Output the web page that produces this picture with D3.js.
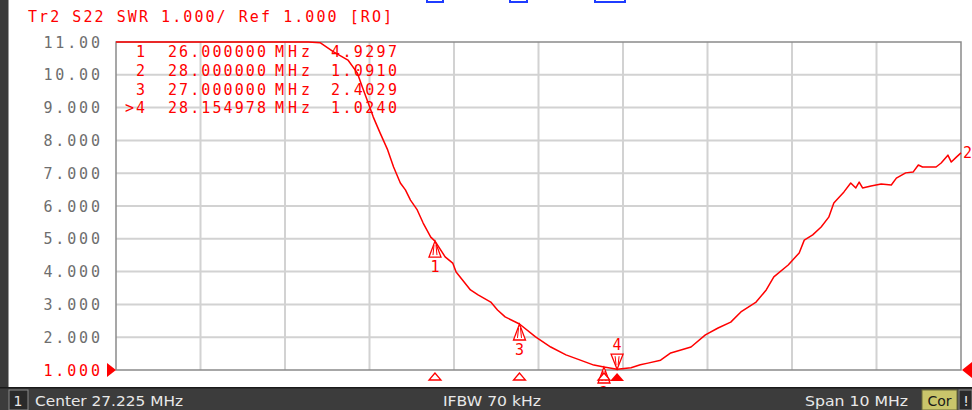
<!DOCTYPE html>
<html>
<head>
<meta charset="utf-8">
<script src="https://cdn.jsdelivr.net/npm/d3@7"></script>
<style>
  html, body { margin: 0; padding: 0; background: #fff; }
  svg { display: block; }
  .mono { font-family: "DejaVu Sans Mono", "Liberation Mono", monospace; }
  .stat { font-family: "DejaVu Sans", "Liberation Sans", sans-serif; }
</style>
</head>
<body>
<svg id="chart" width="972" height="410"></svg>
<script>
// trace: frequency (MHz) and SWR
const freqMHz = [22.225, 23.5, 24.5, 24.64, 24.80, 24.97, 25.08, 25.14, 25.21, 25.27, 25.35, 25.44, 25.51, 25.59,
  25.65, 25.71, 25.79, 25.86, 25.95, 26.00, 26.12, 26.21, 26.25, 26.42, 26.51, 26.66, 26.74, 26.83, 27.00,
  27.19, 27.37, 27.55, 27.72, 27.88, 28.00, 28.155, 28.32, 28.43, 28.52, 28.67, 28.79, 29.03, 29.20, 29.35,
  29.50, 29.62, 29.80, 29.92, 30.01, 30.18, 30.31, 30.37, 30.47, 30.57, 30.66, 30.72, 30.84, 30.92, 30.98,
  31.02, 31.06, 31.16, 31.28, 31.40, 31.46, 31.57, 31.66, 31.72, 31.77, 31.93, 31.99, 32.07, 32.11, 32.17, 32.225]
const swr = [15.0, 13.0, 11.3, 10.98, 10.70, 10.45, 10.06, 9.63, 9.14, 8.71, 8.23, 7.71, 7.19, 6.70,
  6.49, 6.18, 5.88, 5.48, 5.05, 4.9297, 4.45, 4.26, 3.99, 3.44, 3.29, 3.07, 2.83, 2.62, 2.4029,
  2.01, 1.70, 1.46, 1.30, 1.15, 1.091, 1.024, 1.07, 1.16, 1.21, 1.30, 1.52, 1.70, 2.07, 2.28,
  2.46, 2.77, 3.07, 3.44, 3.84, 4.20, 4.57, 4.96, 5.12, 5.36, 5.66, 6.09, 6.43, 6.70, 6.55,
  6.73, 6.55, 6.61, 6.67, 6.64, 6.85, 7.01, 7.04, 7.25, 7.19, 7.19, 7.31, 7.55, 7.34, 7.49, 7.62]

const markerIds = ["1", "2", "3", "4"]
const markerFreqs = [26.000000, 28.000000, 27.000000, 28.154978]
const markerVals = [4.9297, 1.0910, 2.4029, 1.0240]
const activeMarker = "4"

const yTicks = [11, 10, 9, 8, 7, 6, 5, 4, 3, 2, 1]
const yTickLabels = ["11.00", "10.00", "9.000", "8.000", "7.000", "6.000", "5.000", "4.000", "3.000", "2.000", "1.000"]

const headerText = "Tr2 S22 SWR 1.000/ Ref 1.000 [RO]"
const centerText = "Center 27.225 MHz"
const ifbwText = "IFBW 70 kHz"
const spanText = "Span 10 MHz"

const RED = "#ff0000"
const svg = d3.select("#chart")

const pLeft = 116, pRight = 961, pTop = 42, pBottom = 370
const x = d3.scaleLinear().domain([22.225, 32.225]).range([pLeft, pRight])
const y = d3.scaleLinear().domain([1, 11]).range([pBottom, pTop]).clamp(true)

// left frame
svg.append("rect").attr("x", 0).attr("y", 0).attr("width", 8).attr("height", 410).attr("fill", "#3a3a3a")
svg.append("rect").attr("x", 8).attr("y", 0).attr("width", 1).attr("height", 388).attr("fill", "#9a9a9a")

// blue bits at the very top (buttons cut off)
const blueBits = [[427, 16], [510, 17], [595, 30]]
blueBits.forEach(b => {
  svg.append("rect").attr("x", b[0]).attr("y", -6).attr("width", b[1]).attr("height", 8)
    .attr("fill", "none").attr("stroke", "#1f3cff").attr("stroke-width", 2)
})

// header
svg.append("text").attr("class", "mono").attr("x", 28).attr("y", 22)
  .attr("font-size", 15).attr("fill", RED).attr("textLength", 364).attr("lengthAdjust", "spacing")
  .text(headerText)

// grid
const xGrid = d3.range(1, 10).map(i => 22.225 + i)
svg.append("g").selectAll("line").data(xGrid).join("line")
  .attr("x1", d => x(d)).attr("x2", d => x(d)).attr("y1", pTop).attr("y2", pBottom)
  .attr("stroke", "#d2d2d2").attr("stroke-width", 2)
svg.append("g").selectAll("line").data(yTicks.filter(d => d > 1 && d < 11)).join("line")
  .attr("x1", pLeft).attr("x2", pRight).attr("y1", d => y(d)).attr("y2", d => y(d))
  .attr("stroke", "#d2d2d2").attr("stroke-width", 2)

// frame
svg.append("rect").attr("x", pLeft).attr("y", pTop).attr("width", pRight - pLeft).attr("height", pBottom - pTop)
  .attr("fill", "none").attr("stroke", "#8a8a8a").attr("stroke-width", 1.5)

// y labels
svg.append("g").selectAll("text").data(yTicks).join("text")
  .attr("class", "mono")
  .attr("x", 100).attr("y", d => y(d) + 5.5)
  .attr("text-anchor", "end").attr("font-size", 15)
  .attr("fill", d => d === 1 ? RED : "#6e6e6e")
  .attr("textLength", (d, i) => yTickLabels[i].length * 11.3).attr("lengthAdjust", "spacing")
  .text((d, i) => yTickLabels[i])

// marker table
const rowY = [57, 76, 95, 113]
const table = svg.append("g").attr("class", "mono").attr("font-size", 15).attr("fill", RED)
markerIds.forEach((id, i) => {
  const lab = id === activeMarker ? ">" + id : id
  table.append("text").attr("x", 145).attr("y", rowY[i]).attr("text-anchor", "end")
    .attr("textLength", lab.length * 10).attr("lengthAdjust", "spacing").text(lab)
  table.append("text").attr("x", 168).attr("y", rowY[i])
    .attr("textLength", 98).attr("lengthAdjust", "spacing").text(markerFreqs[i].toFixed(6))
  table.append("text").attr("x", 275).attr("y", rowY[i])
    .attr("textLength", 35).attr("lengthAdjust", "spacing").text("MHz")
  table.append("text").attr("x", 397).attr("y", rowY[i]).attr("text-anchor", "end")
    .attr("textLength", 66).attr("lengthAdjust", "spacing").text(markerVals[i].toFixed(4))
})

// trace
const line = d3.line().x((d, i) => x(freqMHz[i])).y(d => y(d))
svg.append("path").datum(swr).attr("d", line)
  .attr("fill", "none").attr("stroke", RED).attr("stroke-width", 1.5).attr("stroke-linejoin", "round")

// trace label at the right end
svg.append("text").attr("class", "mono").attr("x", 963).attr("y", y(swr[swr.length - 1]) + 5)
  .attr("font-size", 15).attr("fill", RED).text("2")

// reference level arrows
svg.append("path").attr("d", `M${pLeft - 9},${pBottom - 7}L${pLeft},${pBottom}L${pLeft - 9},${pBottom + 7}Z`).attr("fill", RED)
svg.append("path").attr("d", `M972,${pBottom - 8}L${pRight + 1},${pBottom}L972,${pBottom + 8}Z`).attr("fill", RED)

// markers on the trace
const mk = svg.append("g")
markerIds.forEach((id, i) => {
  const mx = x(markerFreqs[i]), my = y(markerVals[i])
  if (id === activeMarker) {
    mk.append("path").attr("d", `M${mx},${my}L${mx - 6},${my - 15}L${mx + 6},${my - 15}Z`)
      .attr("fill", "#fff").attr("stroke", RED).attr("stroke-width", 1.3)
    mk.append("path").attr("d", `M${mx - 2},${my - 13}L${mx - 1},${my - 4}M${mx + 2},${my - 13}L${mx + 1},${my - 4}`)
      .attr("stroke", RED).attr("stroke-width", 1)
    mk.append("text").attr("class", "mono").attr("x", mx).attr("y", my - 19).attr("text-anchor", "middle")
      .attr("font-size", 15).attr("fill", RED).text(id)
    // filled triangle under the axis
    mk.append("path").attr("d", `M${mx},${pBottom + 3}L${mx - 7},${pBottom + 11}L${mx + 7},${pBottom + 11}Z`).attr("fill", RED)
  } else {
    mk.append("path").attr("d", `M${mx},${my}L${mx - 6},${my + 16}L${mx + 6},${my + 16}Z`)
      .attr("fill", "#fff").attr("stroke", RED).attr("stroke-width", 1.3)
    mk.append("path").attr("d", `M${mx - 1},${my + 4}L${mx - 2},${my + 14}M${mx + 1},${my + 4}L${mx + 2},${my + 14}`)
      .attr("stroke", RED).attr("stroke-width", 1)
    mk.append("text").attr("class", "mono").attr("x", mx).attr("y", my + 31).attr("text-anchor", "middle")
      .attr("font-size", 15).attr("fill", RED).text(id)
    mk.append("path").attr("d", `M${mx},${pBottom + 3}L${mx - 6},${pBottom + 10}L${mx + 6},${pBottom + 10}Z`)
      .attr("fill", "#fff").attr("stroke", RED).attr("stroke-width", 1.3)
  }
})

// status bar
const sb = svg.append("g")
sb.append("rect").attr("x", 0).attr("y", 387).attr("width", 972).attr("height", 23).attr("fill", "#3c3c3c")
sb.append("rect").attr("x", 0).attr("y", 387).attr("width", 972).attr("height", 1.5).attr("fill", "#1a1a1a")
sb.append("rect").attr("x", 9).attr("y", 390).attr("width", 19).attr("height", 20)
  .attr("fill", "#2a2a2a").attr("stroke", "#8a8a8a").attr("stroke-width", 1)
sb.append("text").attr("class", "stat").attr("x", 18).attr("y", 406).attr("text-anchor", "middle")
  .attr("font-size", 14).attr("fill", "#e8e8e8").text("1")
sb.append("text").attr("class", "stat").attr("x", 35).attr("y", 406)
  .attr("font-size", 14).attr("fill", "#e8e8e8").attr("textLength", 148).attr("lengthAdjust", "spacingAndGlyphs")
  .text(centerText)
sb.append("text").attr("class", "stat").attr("x", 443).attr("y", 406)
  .attr("font-size", 14).attr("fill", "#e8e8e8").attr("textLength", 98).attr("lengthAdjust", "spacingAndGlyphs")
  .text(ifbwText)
sb.append("text").attr("class", "stat").attr("x", 805).attr("y", 406)
  .attr("font-size", 14).attr("fill", "#e8e8e8").attr("textLength", 103).attr("lengthAdjust", "spacingAndGlyphs")
  .text(spanText)
sb.append("rect").attr("x", 922).attr("y", 390).attr("width", 35).attr("height", 20)
  .attr("fill", "#c9c56b").attr("stroke", "#6a6a3a").attr("stroke-width", 1)
sb.append("text").attr("class", "stat").attr("x", 939.5).attr("y", 406).attr("text-anchor", "middle")
  .attr("font-size", 14).attr("fill", "#1a1a1a").text("Cor")
sb.append("rect").attr("x", 959).attr("y", 390).attr("width", 13).attr("height", 20)
  .attr("fill", "#2a2a2a").attr("stroke", "#8a8a8a").attr("stroke-width", 1)
sb.append("text").attr("class", "stat").attr("x", 966).attr("y", 406).attr("text-anchor", "middle")
  .attr("font-size", 14).attr("fill", "#e8e8e8").text("!")
</script>
</body>
</html>
